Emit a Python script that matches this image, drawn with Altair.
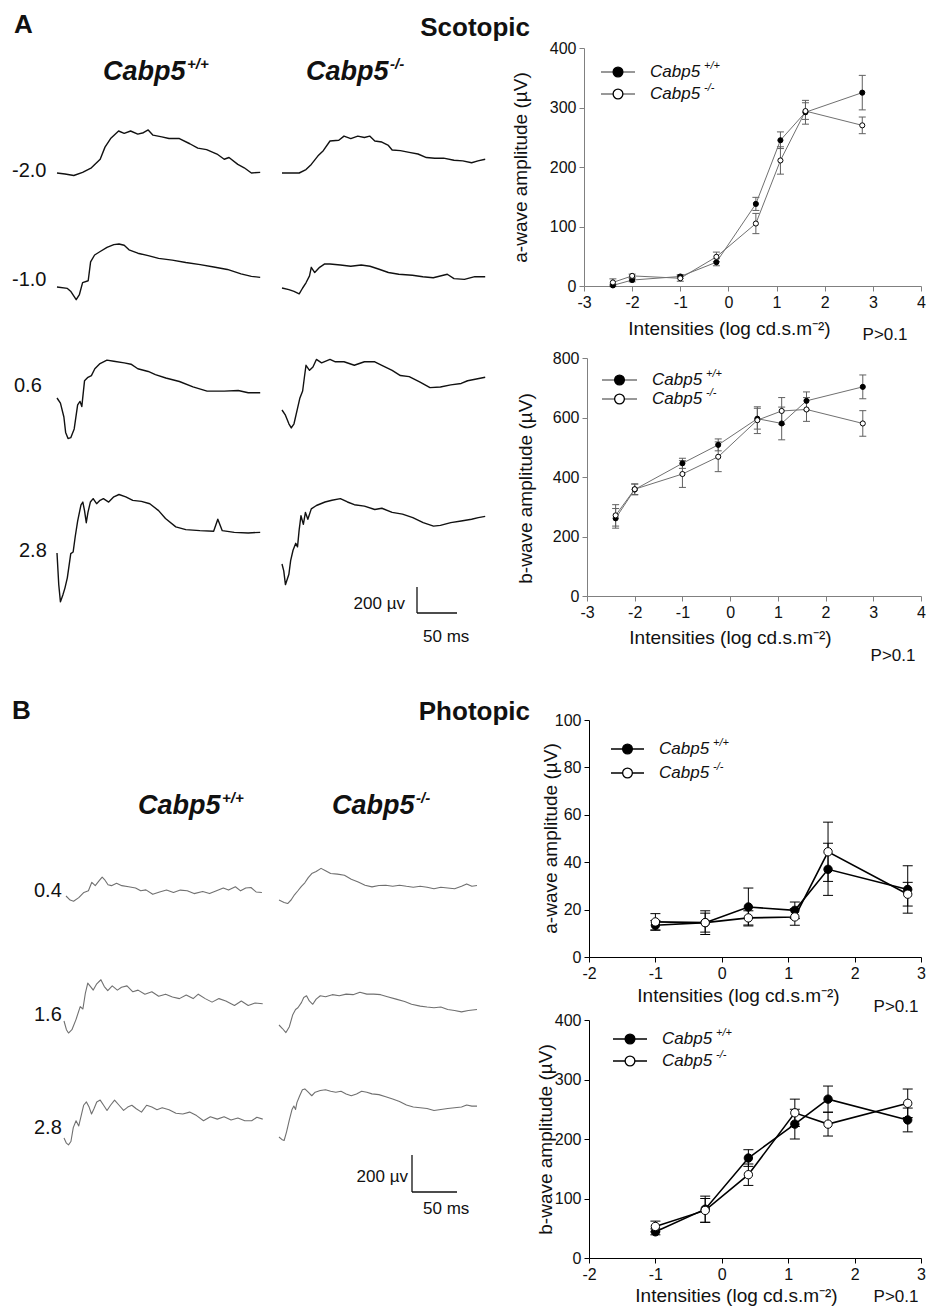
import altair as alt
import pandas as pd

# ------------------------------------------------------------------ text
PANEL_A, PANEL_B = "A", "B"
TITLE_A, TITLE_B = "Scotopic", "Photopic"
GENE = "Cabp5"
SUP_WT, SUP_KO = "+/+", "-/-"
ROWS_A = ["-2.0", "-1.0", "0.6", "2.8"]
ROWS_B = ["0.4", "1.6", "2.8"]
XTITLE = "Intensities (log cd.s.m\u207b\u00b2)"
YT_A = "a-wave amplitude (\u00b5V)"
YT_B = "b-wave amplitude (\u00b5V)"
PVAL = "P>0.1"
SB_V_LABEL = "200  \u00b5v"
SB_T_LABEL = "50 ms"
SB_UV = 200
SB_MS = 50

# ------------------------------------------------------------------ intensity-response data
sco_int = [-2.4, -2.0, -1.0, -0.25, 0.57, 1.08, 1.6, 2.78]
sco_a_wt = [1, 10, 16, 40, 138, 245, 292, 325]
sco_a_wt_err = [2, 3, 3, 6, 11, 14, 20, 29]
sco_a_ko = [6, 17, 13, 49, 105, 211, 294, 270]
sco_a_ko_err = [6, 3, 5, 8, 17, 23, 14, 14]
sco_b_wt = [261, 358, 446, 508, 596, 580, 656, 703]
sco_b_wt_err = [33, 18, 17, 20, 35, 55, 30, 40]
sco_b_ko = [271, 359, 410, 468, 591, 622, 627, 580]
sco_b_ko_err = [36, 18, 45, 50, 45, 45, 40, 43]

pho_int = [-1.0, -0.25, 0.4, 1.1, 1.6, 2.8]
pho_a_wt = [13.4, 14.5, 21.1, 19.7, 37.0, 28.5]
pho_a_wt_err = [2, 5, 8, 3.5, 11, 10]
pho_a_ko = [14.8, 14.5, 16.5, 16.9, 44.4, 26.5]
pho_a_ko_err = [3.5, 4, 3, 3.5, 12.5, 5]
pho_b_wt = [44, 82, 168, 225, 267, 232]
pho_b_wt_err = [5, 22, 14, 25, 22, 20]
pho_b_ko = [53, 80, 140, 244, 225, 260]
pho_b_ko_err = [9, 20, 18, 23, 20, 24]

# ------------------------------------------------------------------ ERG traces (ms, uV from start)
sA_m20_wt_t = [0, 10, 21, 32, 43, 54, 60, 67, 77, 84, 92, 101, 108, 114, 120, 131, 140, 153, 166, 176, 187, 200, 209, 215, 226, 234, 243, 254]
sA_m20_wt_v = [0, -8, -19, 5, 40, 106, 199, 265, 323, 305, 323, 299, 310, 331, 291, 278, 265, 265, 225, 191, 180, 146, 106, 119, 66, 40, 0, 5]
sA_m20_ko_t = [0, 13, 21.5, 30, 36.6, 45, 51.6, 60, 71, 77.5, 86, 94.7, 103, 109.6, 116, 124.8, 133, 137.7, 148, 159, 170, 180.5, 191, 202, 215, 226, 237, 245, 254]
sA_m20_ko_v = [0, 0, 0, 26, 66, 132, 172, 246, 252, 284, 265, 284, 273, 284, 246, 238, 212, 177, 172, 159, 146, 119, 114, 114, 98, 93, 79, 93, 106]
sA_m10_wt_t = [0, 13, 17, 24, 28, 32, 39, 42, 47, 54, 62.5, 71, 77.5, 84, 90, 101, 114, 127, 144, 161, 179, 196, 213, 230, 243, 254]
sA_m10_wt_v = [0, -11, -32, -98, -58, 34, 48, 193, 246, 273, 305, 326, 331, 321, 286, 260, 241, 220, 207, 188, 172, 154, 135, 101, 82, 74]
sA_m10_ko_t = [0, 8.6, 15, 21.5, 25.8, 30, 34.4, 36.6, 40.9, 47, 53.4, 60, 73, 86, 99, 110, 120.5, 133, 146, 163, 176, 189, 206.6, 215, 228, 241, 254]
sA_m10_ko_v = [0, -13, -26, -45, 0, 40, 93, 159, 119, 159, 185, 185, 177, 167, 177, 167, 146, 119, 106, 98, 87, 79, 106, 72, 66, 87, 87]
sA_p06_wt_t = [0, 4.3, 8.6, 10.8, 13.8, 17.2, 21.5, 25.8, 28.8, 31, 34.4, 38.7, 43, 47.3, 53.8, 62.4, 71, 84, 92.5, 101, 114, 123, 136, 153, 170, 187.6, 209, 226.5, 239, 254]
sA_p06_wt_v = [0, -40, -146, -265, -312, -305, -238, -53, -26, -66, 132, 159, 172, 225, 265, 291, 283, 270, 260, 225, 204, 180, 154, 127, 85, 53, 53, 58, 40, 40]
sA_p06_ko_t = [0, 4.3, 8.6, 11.6, 15, 19.4, 22.4, 25.8, 28, 30, 34.4, 38.7, 43, 49.5, 60, 66.7, 77.5, 90.4, 103, 116, 124.8, 137.7, 148, 159, 172, 185, 198, 211, 224, 232, 243, 254]
sA_p06_ko_v = [0, -40, -106, -138, -106, 13, 93, 146, 252, 344, 305, 331, 389, 363, 389, 371, 371, 344, 371, 371, 344, 305, 265, 257, 217, 172, 177, 193, 204, 225, 238, 252]
sA_p28_wt_t = [0, 2.2, 4.3, 7.3, 9.9, 12.9, 17.2, 20.2, 22.8, 25.8, 30, 32.3, 34.4, 36.6, 38.7, 41.7, 45.2, 49.5, 53.8, 58, 64.6, 71, 77.5, 86, 94.7, 105.5, 116, 127, 135.6, 148.5, 161, 178.6, 195.8, 201, 206.6, 221.6, 239, 254]
sA_p28_wt_v = [0, -244, -376, -323, -270, -191, -5, 8, 127, 246, 371, 392, 326, 233, 312, 392, 418, 379, 405, 418, 392, 432, 450, 432, 405, 397, 379, 326, 265, 201, 180, 172, 167, 260, 172, 159, 154, 159]
sA_p28_ko_t = [0, 2.2, 4.3, 8.6, 10.8, 13.8, 17.2, 19.4, 21.5, 23.7, 26.7, 29.3, 32.3, 36.6, 43, 53.8, 62.4, 73, 81.8, 90.4, 103, 116, 124.8, 137.7, 150.6, 163.5, 176.5, 189.4, 198, 211, 224, 237, 245.4, 254]
sA_p28_ko_v = [0, -53, -159, -79, 26, 106, 159, 132, 265, 371, 305, 397, 344, 424, 450, 477, 490, 503, 477, 456, 445, 419, 429, 397, 384, 357, 318, 291, 297, 318, 331, 344, 357, 366]

pB_p04_wt_t = [0, 4.6, 8.4, 14.2, 19.9, 24.9, 28.7, 32.5, 37.1, 40.2, 42.8, 46.7, 50.5, 56.2, 62, 69.6, 77.3, 83, 88.8, 96.4, 104, 111.7, 119.4, 127, 134.7, 142.3, 151.9, 159.5, 167.2, 174.8, 180.6, 188.2, 194, 199.7, 205.5, 211.2, 217.7]
pB_p04_wt_v = [0, -22, -28, -9, 19, 28, 74, 56, 84, 102, 89, 61, 56, 69, 56, 50, 43, 28, 33, 9, 22, 32, 19, 32, 28, 13, 24, 13, 28, 43, 32, 50, 28, 43, 46, 22, 19]
pB_p04_ko_t = [0, 5.7, 9.6, 13.4, 17.2, 21, 24.9, 28.7, 32.5, 36.4, 41.3, 46.7, 51.7, 57.4, 65, 72.7, 80.3, 88, 95.6, 103.3, 111, 118.6, 126.3, 133.9, 141.6, 149.2, 156.9, 164.5, 172.2, 179.8, 187.5, 195.1, 202.8, 208.5, 214.3, 220]
pB_p04_ko_v = [0, -13, -19, 0, 28, 50, 74, 93, 121, 143, 154, 171, 158, 143, 140, 134, 112, 97, 80, 71, 78, 80, 74, 80, 74, 69, 74, 69, 61, 69, 65, 61, 74, 87, 74, 78]
pB_p16_wt_t = [0, 2.7, 5, 8.8, 13.4, 18, 21, 23.7, 26.4, 29.5, 32.5, 36.4, 41, 44.8, 48.6, 53.6, 59.3, 63.9, 70, 76.5, 82.3, 89.9, 97.6, 105.2, 112.9, 120.5, 128.2, 135.8, 143.5, 149.2, 156.9, 164.5, 172.2, 179.8, 189.4, 197, 204.7, 212.3, 220.8]
pB_p16_wt_v = [0, -47, -65, -47, 9, 78, 65, 149, 205, 186, 167, 201, 223, 186, 164, 190, 167, 182, 190, 158, 167, 145, 158, 134, 145, 130, 121, 140, 121, 145, 121, 102, 121, 108, 84, 108, 84, 97, 93]
pB_p16_ko_t = [0, 3.8, 7.7, 11.5, 15.3, 18.4, 21, 24.9, 27.5, 30.6, 33.7, 37.5, 41.3, 45.9, 51.7, 59.3, 67, 74.6, 82.3, 89.9, 97.6, 105.2, 112.9, 120.5, 130.1, 139.6, 147.3, 156.9, 164.5, 172.2, 179.8, 187.5, 195.1, 202.8, 210.4, 220]
pB_p16_ko_v = [0, -19, -41, -9, 56, 84, 93, 121, 149, 158, 130, 112, 140, 158, 153, 164, 158, 167, 164, 177, 167, 167, 164, 153, 140, 127, 112, 102, 97, 93, 97, 84, 78, 71, 78, 84]
pB_p28_wt_t = [0, 2.7, 5, 7.7, 10.3, 13.4, 16.4, 19.1, 21.8, 24.9, 27.9, 30.6, 33.3, 36.4, 40.2, 44, 47.8, 51.7, 56.2, 61.2, 66.2, 70.8, 75.4, 80.3, 86.1, 91.8, 97.6, 103.3, 109.1, 116.7, 124.4, 132, 139.6, 147.3, 155, 162.6, 170.3, 177.9, 185.6, 193.2, 200.9, 208.5, 214.3, 220.8]
pB_p28_wt_v = [0, -28, -37, -19, 56, 93, 65, 121, 177, 195, 167, 130, 158, 195, 205, 177, 149, 177, 205, 177, 149, 167, 177, 158, 140, 177, 167, 153, 164, 153, 134, 130, 140, 121, 93, 115, 102, 115, 97, 108, 93, 93, 112, 102]
pB_p28_ko_t = [0, 3.1, 5.7, 8.4, 11.5, 14.5, 16.5, 18.4, 19.9, 23, 26, 28.7, 32.5, 36.4, 40.2, 45.9, 51.7, 57.4, 63.1, 68.9, 74.6, 80.3, 86.1, 91.8, 97.6, 103.3, 111, 118.6, 126.3, 133.9, 141.6, 149.2, 156.9, 164.5, 172.2, 179.8, 187.5, 195.1, 202.8, 208.5, 214.3, 220]
pB_p28_ko_v = [0, -13, -19, 28, 93, 149, 167, 149, 186, 223, 255, 260, 242, 223, 242, 251, 255, 247, 242, 247, 233, 223, 233, 247, 242, 233, 229, 218, 205, 192, 173, 162, 158, 154, 143, 149, 154, 158, 162, 173, 167, 167]

# ------------------------------------------------------------------ layout helpers (page pixels)
CW, CH = 918, 1299
M = 8
FONT = "Liberation Sans"


def P(v):
    return v - M


ONE = pd.DataFrame({"k": [0]})


def lin(domain, r0, r1):
    return alt.Scale(domain=domain, range=[r0, r1], nice=False, zero=False)


def txt(s, x, y, size, weight="normal", style="normal", align="left", color="#111"):
    return alt.Chart(ONE).mark_text(
        font=FONT, fontSize=size, fontWeight=weight, fontStyle=style,
        align=align, baseline="middle", color=color,
    ).encode(x=alt.value(P(x)), y=alt.value(P(y)), text=alt.value(s))


def trace(t, v, x0, y0, pxms, pxuv, color, width):
    df = pd.DataFrame({"t": t, "v": v})
    return alt.Chart(df).mark_line(color=color, strokeWidth=width, strokeJoin="round").encode(
        x=alt.X("t:Q", axis=None, scale=lin([0, 1000], P(x0), P(x0) + 1000 * pxms)),
        y=alt.Y("v:Q", axis=None, scale=lin([0, 1000], P(y0), P(y0) - 1000 * pxuv)),
    )


def scalebar(cx, cy, pxms, pxuv):
    xs = lin([0, 1000], P(cx), P(cx) + 1000 * pxms)
    ys = lin([0, 1000], P(cy), P(cy) - 1000 * pxuv)
    vert = alt.Chart(pd.DataFrame({"t": [0], "v0": [0], "v1": [SB_UV]})).mark_rule(
        color="#111", strokeWidth=1.3).encode(
        x=alt.X("t:Q", axis=None, scale=xs), y=alt.Y("v0:Q", axis=None, scale=ys), y2="v1:Q")
    horiz = alt.Chart(pd.DataFrame({"t0": [0], "t1": [SB_MS], "v": [0]})).mark_rule(
        color="#111", strokeWidth=1.3).encode(
        x=alt.X("t0:Q", axis=None, scale=xs), x2="t1:Q", y=alt.Y("v:Q", axis=None, scale=ys))
    return [vert, horiz]


LABEL_EXPR = "datum.value < 0 ? '-' + abs(datum.value) : '' + datum.value"


def curve_panel(xs, wt, wt_e, ko, ko_e, xdom, xpx, ydom, ypx, xticks, yticks,
                ytitle, xt, yt, dark):
    line_c = "#000" if dark else "#707070"
    ax_c = "#000" if dark else "#808080"
    err_c = "#000" if dark else "#606060"
    lw = 1.6 if dark else 1.0
    msize = 70 if dark else 26
    cap = 10 if dark else 7
    n = len(xs)
    df = pd.DataFrame({
        "x": list(xs) * 2,
        "m": list(wt) + list(ko),
        "e": list(wt_e) + list(ko_e),
        "g": ["wt"] * n + ["ko"] * n,
    })
    df["lo"] = df["m"] - df["e"]
    df["hi"] = df["m"] + df["e"]
    common = dict(grid=False, domainColor=ax_c, tickColor=ax_c, domainWidth=1, tickWidth=1,
                  tickSize=5, labelFont=FONT, labelFontSize=16, labelColor="#111",
                  labelPadding=3, labelFlush=False, labelOverlap=False, labelExpr=LABEL_EXPR,
                  titleFont=FONT, titleFontSize=19, titleFontWeight="normal",
                  titleColor="#111", titleAlign="center", titleBaseline="middle")
    xaxis = alt.Axis(orient="bottom", offset=P(ypx[0]) - CH, values=xticks,
                     title=XTITLE, titleX=P(xt[0]), titleY=xt[1] - ypx[0], titleAngle=0,
                     **common)
    yaxis = alt.Axis(orient="left", offset=-P(xpx[0]), values=yticks,
                     title=ytitle, titleX=yt[0] - xpx[0], titleY=P(yt[1]), titleAngle=270,
                     **common)

    def SX(ax=None):
        return alt.X("x:Q", scale=lin(xdom, P(xpx[0]), P(xpx[1])), axis=ax)

    def SY(f, ax=None):
        return alt.Y(f, scale=lin(ydom, P(ypx[0]), P(ypx[1])), axis=ax)

    base = alt.Chart(df)
    bars = base.mark_rule(color=err_c, strokeWidth=1).encode(
        x=SX(xaxis), y=SY("lo:Q", yaxis), y2="hi:Q")
    cap_lo = base.mark_tick(orient="horizontal", size=cap, thickness=1, color=err_c, opacity=1).encode(
        x=SX(), y=SY("lo:Q"))
    cap_hi = base.mark_tick(orient="horizontal", size=cap, thickness=1, color=err_c, opacity=1).encode(
        x=SX(), y=SY("hi:Q"))
    wt_df = df[df.g == "wt"]
    ko_df = df[df.g == "ko"]
    l_wt = alt.Chart(wt_df).mark_line(color=line_c, strokeWidth=lw).encode(x=SX(), y=SY("m:Q"))
    l_ko = alt.Chart(ko_df).mark_line(color=line_c, strokeWidth=lw).encode(x=SX(), y=SY("m:Q"))
    p_wt = alt.Chart(wt_df).mark_point(shape="circle", filled=True, fill="#000", stroke="#000",
                                       strokeWidth=1, size=msize, opacity=1).encode(x=SX(), y=SY("m:Q"))
    p_ko = alt.Chart(ko_df).mark_point(shape="circle", filled=True, fill="#fff", stroke="#000",
                                       strokeWidth=1, size=msize, opacity=1).encode(x=SX(), y=SY("m:Q"))
    return [bars, cap_lo, cap_hi, l_wt, l_ko, p_wt, p_ko]


def legend(x1, x2, y_wt, y_ko, xtext, dark):
    lc = "#000" if dark else "#333"
    lw = 1.5 if dark else 1.2
    out = []
    for yy, fill, sup in [(y_wt, "#000", SUP_WT), (y_ko, "#fff", SUP_KO)]:
        out.append(alt.Chart(ONE).mark_rule(color=lc, strokeWidth=lw).encode(
            x=alt.value(P(x1)), x2=alt.value(P(x2)), y=alt.value(P(yy))))
        out.append(alt.Chart(ONE).mark_point(shape="circle", filled=True, fill=fill, stroke="#000",
                                             strokeWidth=1.3, size=95, opacity=1).encode(
            x=alt.value(P((x1 + x2) / 2)), y=alt.value(P(yy))))
        out.append(txt(GENE, xtext, yy, 17, style="italic"))
        out.append(txt(sup, xtext + 54, yy - 6, 11, style="italic"))
    return out


def header(x, y, sup):
    return [txt(GENE, x, y, 27, weight="bold", style="italic"),
            txt(sup, x + 84, y - 8, 15, weight="bold", style="italic")]


layers = []

# ---------------- panel A : intensity-response
layers += curve_panel(sco_int, sco_a_wt, sco_a_wt_err, sco_a_ko, sco_a_ko_err,
                      [-3, 4], (584, 921), [0, 400], (286, 48),
                      list(range(-3, 5)), [0, 100, 200, 300, 400],
                      YT_A, (729, 328), (520, 167), False)
layers += legend(601, 635, 72, 94, 650, False)
layers.append(txt(PVAL, 885, 335, 17, align="center"))

layers += curve_panel(sco_int, sco_b_wt, sco_b_wt_err, sco_b_ko, sco_b_ko_err,
                      [-3, 4], (587, 921), [0, 800], (596, 358),
                      list(range(-3, 5)), [0, 200, 400, 600, 800],
                      YT_B, (730, 637), (525, 488), False)
layers += legend(602, 637, 380, 399, 652, False)
layers.append(txt(PVAL, 893, 656, 17, align="center"))

# ---------------- panel A : labels
layers += [txt(PANEL_A, 14, 25, 26, weight="bold"),
           txt(TITLE_A, 530, 28, 26, weight="bold", align="right")]
layers += header(103, 72, SUP_WT) + header(306, 72, SUP_KO)
for lab, (lx, ly) in zip(ROWS_A, [(12, 171), (12, 280), (14, 386), (19, 551)]):
    layers.append(txt(lab, lx, ly, 20))

# ---------------- panel A : traces
A_MS, A_UV = 0.8, 0.13
for t, v, x0, y0 in [
    (sA_m20_wt_t, sA_m20_wt_v, 57, 173), (sA_m20_ko_t, sA_m20_ko_v, 282, 173),
    (sA_m10_wt_t, sA_m10_wt_v, 57, 287), (sA_m10_ko_t, sA_m10_ko_v, 282, 288),
    (sA_p06_wt_t, sA_p06_wt_v, 57, 398), (sA_p06_ko_t, sA_p06_ko_v, 282, 410),
    (sA_p28_wt_t, sA_p28_wt_v, 57, 553), (sA_p28_ko_t, sA_p28_ko_v, 282, 564),
]:
    layers.append(trace(t, v, x0, y0, A_MS, A_UV, "#111", 1.4))
layers += scalebar(417, 613, A_MS, A_UV)
layers += [txt(SB_V_LABEL, 405, 604, 17, align="right"), txt(SB_T_LABEL, 423, 637, 17)]

# ---------------- panel B : intensity-response
layers += curve_panel(pho_int, pho_a_wt, pho_a_wt_err, pho_a_ko, pho_a_ko_err,
                      [-2, 3], (589, 921), [0, 100], (957, 720),
                      list(range(-2, 4)), [0, 20, 40, 60, 80, 100],
                      YT_A, (738, 995), (550, 838), True)
layers += legend(611, 644, 749, 773, 659, True)
layers.append(txt(PVAL, 896, 1007, 17, align="center"))

layers += curve_panel(pho_int, pho_b_wt, pho_b_wt_err, pho_b_ko, pho_b_ko_err,
                      [-2, 3], (589, 921), [0, 400], (1258, 1020),
                      list(range(-2, 4)), [0, 100, 200, 300, 400],
                      YT_B, (736, 1295), (545, 1139), True)
layers += legend(613, 647, 1039, 1061, 662, True)
layers.append(txt(PVAL, 896, 1297, 17, align="center"))

# ---------------- panel B : labels
layers += [txt(PANEL_B, 12, 711, 26, weight="bold"),
           txt(TITLE_B, 530, 712, 26, weight="bold", align="right")]
layers += header(138, 806, SUP_WT) + header(332, 806, SUP_KO)
for lab, (lx, ly) in zip(ROWS_B, [(34, 891), (34, 1015), (34, 1128)]):
    layers.append(txt(lab, lx, ly, 20))

# ---------------- panel B : traces
B_MS, B_UV = 0.9, 0.185
for t, v, x0, y0 in [
    (pB_p04_wt_t, pB_p04_wt_v, 66, 896), (pB_p04_ko_t, pB_p04_ko_v, 279, 900),
    (pB_p16_wt_t, pB_p16_wt_v, 64, 1021), (pB_p16_ko_t, pB_p16_ko_v, 279, 1025),
    (pB_p28_wt_t, pB_p28_wt_v, 64, 1138), (pB_p28_ko_t, pB_p28_ko_v, 279, 1137),
]:
    layers.append(trace(t, v, x0, y0, B_MS, B_UV, "#707070", 1.1))
layers += scalebar(412, 1192, B_MS, B_UV)
layers += [txt(SB_V_LABEL, 408, 1177, 17, align="right"), txt(SB_T_LABEL, 423, 1209, 17)]

chart = (
    alt.layer(*layers)
    .resolve_scale(x="independent", y="independent")
    .properties(width=CW, height=CH, autosize=alt.AutoSizeParams(type="none"),
                padding=0, background="white")
    .configure_view(stroke=None)
)

chart.save("out.html", embed_options={"renderer": "svg", "actions": False})
